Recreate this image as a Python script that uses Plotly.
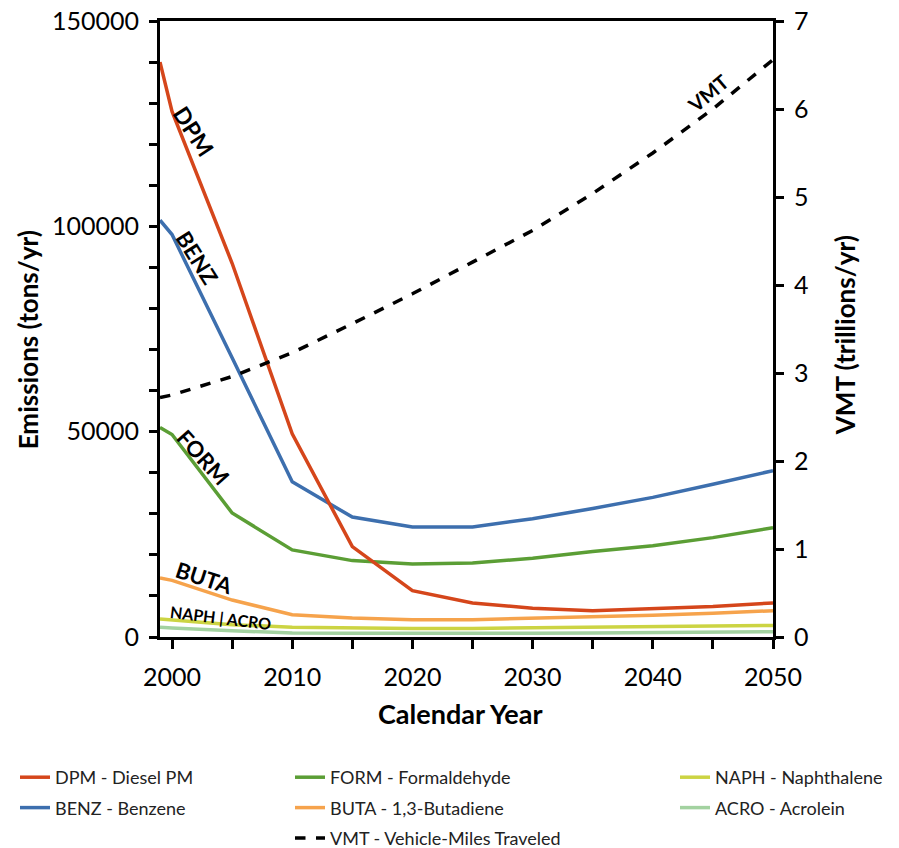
import plotly.graph_objects as go

years = [1999, 2000, 2005, 2010, 2015, 2020, 2025, 2030, 2035, 2040, 2045, 2050]
dpm = [140000, 128000, 91000, 49500, 22000, 11300, 8300, 7000, 6400, 6800, 7400, 8300]
benz = [101500, 98000, 68000, 37800, 29200, 26800, 26800, 28800, 31300, 34000, 37200, 40500]
form = [51000, 49300, 30200, 21200, 18600, 17800, 18000, 19200, 20800, 22200, 24200, 26600]
buta = [14400, 13800, 9000, 5400, 4600, 4200, 4200, 4500, 4900, 5300, 5800, 6400]
naph = [4400, 4200, 3000, 2400, 2200, 2100, 2100, 2200, 2300, 2400, 2600, 2800]
acro = [2400, 2200, 1500, 1000, 900, 850, 850, 900, 950, 1000, 1100, 1300]
vmt = [2.72, 2.75, 2.96, 3.23, 3.56, 3.90, 4.26, 4.62, 5.04, 5.50, 6.00, 6.56]

FONT = "Lato"
fig = go.Figure()

series = [
    ("DPM - Diesel PM", dpm, "#d5461b", "legend"),
    ("BENZ - Benzene", benz, "#3d6fae", "legend"),
    ("FORM - Formaldehyde", form, "#5b9e35", "legend2"),
    ("BUTA - 1,3-Butadiene", buta, "#f6a34c", "legend2"),
    ("NAPH - Naphthalene", naph, "#ccd443", "legend3"),
    ("ACRO - Acrolein", acro, "#a3d2a0", "legend3"),
]
names = [s[0] for s in series]
for name, vals, col, lg in reversed(series):
    fig.add_trace(go.Scatter(x=years, y=vals, name=name, mode="lines",
                             line=dict(color=col, width=3.5),
                             legend=lg, legendgroup=name, legendrank=names.index(name)))
fig.add_trace(go.Scatter(x=years, y=vmt, name="VMT - Vehicle-Miles Traveled", mode="lines",
                         line=dict(color="black", width=3.5, dash="dash"), yaxis="y2",
                         legend="legend2", legendgroup="vmt", legendrank=10))

labels = [
    ("DPM", 2001.8, 123200, 57, 23),
    ("BENZ", 2002.1, 92500, 58, 22),
    ("FORM", 2002.65, 43800, 48, 22),
    ("BUTA", 2002.65, 14400, 18, 22),
    ("NAPH | ACRO", 2004.07, 4870, 7, 16),
]
for t, x, y, ang, sz in labels:
    fig.add_annotation(x=x, y=y, text=t, textangle=ang, showarrow=False,
                       font=dict(family=FONT, size=sz, color="black", weight="bold"))
fig.add_annotation(x=2044.6, y=6.18, yref="y2", text="VMT", textangle=-40, showarrow=False,
                   font=dict(family=FONT, size=20, color="black", weight="bold"))

# axis titles
title_common = dict(xref="paper", yref="paper", showarrow=False, xanchor="center", yanchor="middle")
fig.add_annotation(x=-0.215, y=0.482, text="<b>Emissions (tons/yr)</b>", textangle=-90,
                   font=dict(family=FONT, size=26, color="black"), **title_common)
fig.add_annotation(x=1.1175, y=0.49, text="<b>VMT (trillions/yr)</b>", textangle=-90,
                   font=dict(family=FONT, size=26, color="black"), **title_common)
fig.add_annotation(x=0.49, y=-0.1234, text="<b>Calendar Year</b>",
                   font=dict(family=FONT, size=27, color="black"), **title_common)

legend_common = dict(orientation="v", xref="container", yref="container", yanchor="top",
                     xanchor="left", bgcolor="rgba(0,0,0,0)", itemwidth=30,
                     font=dict(family=FONT, size=18, color="#222"), tracegroupgap=4,
                     traceorder="grouped")
LY = 1 - 751 / 848
fig.update_layout(
    width=899, height=848,
    margin=dict(l=152, r=134, t=13, b=219, autoexpand=False),
    plot_bgcolor="white", paper_bgcolor="white",
    font=dict(family=FONT, color="black"),
    showlegend=True,
    legend=dict(x=7 / 899, y=LY, **legend_common),
    legend2=dict(x=282 / 899, y=LY, **legend_common),
    legend3=dict(x=667 / 899, y=LY, **legend_common),
    xaxis=dict(range=[1999, 2050], tickvals=[2000, 2010, 2020, 2030, 2040, 2050],
               ticks="outside", ticklen=9, tickwidth=3, tickcolor="black",
               minor=dict(tickvals=[2005, 2015, 2025, 2035, 2045], ticks="outside", ticklen=9,
                          tickwidth=3, tickcolor="black"),
               showline=True, linewidth=3, linecolor="black", mirror=True,
               showgrid=False, zeroline=False, ticklabeloverflow="allow", ticklabelstandoff=7,
               tickfont=dict(family=FONT, size=25)),
    yaxis=dict(range=[0, 150000], tickvals=[0, 50000, 100000, 150000], tickformat="d",
               ticks="outside", ticklen=8, tickwidth=3, tickcolor="black",
               minor=dict(dtick=10000, ticks="outside", ticklen=8, tickwidth=3, tickcolor="black"),
               showline=True, linewidth=3, linecolor="black",
               showgrid=False, zeroline=False, ticklabeloverflow="allow", ticklabelstandoff=5,
               tickfont=dict(family=FONT, size=25)),
    yaxis2=dict(range=[0, 7], dtick=1, overlaying="y", side="right",
                ticks="outside", ticklen=8, tickwidth=3, tickcolor="black",
                showline=True, linewidth=3, linecolor="black",
                showgrid=False, zeroline=False, ticklabeloverflow="allow", ticklabelstandoff=5,
                tickfont=dict(family=FONT, size=25)),
)
fig.write_html("out.html")
